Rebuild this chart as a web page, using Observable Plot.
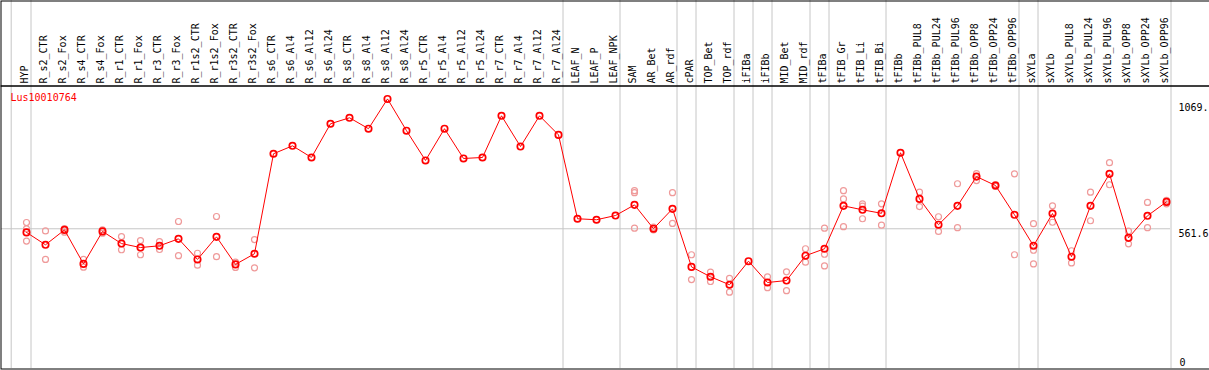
<!DOCTYPE html>
<html>
<head>
<meta charset="utf-8">
<script src="https://cdn.jsdelivr.net/npm/d3@7"></script>
<script src="https://cdn.jsdelivr.net/npm/@observablehq/plot@0.6"></script>
<style>
  html, body { margin: 0; padding: 0; background: #fff; overflow: hidden; }
  #chart svg { display: block; background: #fff; }
</style>
</head>
<body>
<div id="chart"></div>
<script>
const geneName = "Lus10010764";

const categories = [
  "HYP","R_s2_CTR","R_s2_Fox","R_s4_CTR","R_s4_Fox","R_r1_CTR","R_r1_Fox","R_r3_CTR","R_r3_Fox",
  "R_r1s2_CTR","R_r1s2_Fox","R_r3s2_CTR","R_r3s2_Fox","R_s6_CTR","R_s6_Al4","R_s6_Al12","R_s6_Al24",
  "R_s8_CTR","R_s8_Al4","R_s8_Al12","R_s8_Al24","R_r5_CTR","R_r5_Al4","R_r5_Al12","R_r5_Al24",
  "R_r7_CTR","R_r7_Al4","R_r7_Al12","R_r7_Al24","LEAF_N","LEAF_P","LEAF_NPK","SAM","AR_Bet","AR_rdf",
  "cPAR","TOP_Bet","TOP_rdf","iFIBa","iFIBb","MID_Bet","MID_rdf","tFIBa","tFIB_Gr","tFIB_Li","tFIB_Bi",
  "tFIBb","tFIBb_PUL8","tFIBb_PUL24","tFIBb_PUL96","tFIBb_OPP8","tFIBb_OPP24","tFIBb_OPP96",
  "sXYLa","sXYLb","sXYLb_PUL8","sXYLb_PUL24","sXYLb_PUL96","sXYLb_OPP8","sXYLb_OPP24","sXYLb_OPP96"
];

const means = [
  547, 497, 557, 420, 551, 502, 486, 493, 521, 438, 529, 418, 461,
  864, 896, 849, 985, 1009, 965, 1085, 957, 837, 965, 845, 849, 1017, 893, 1017, 940,
  602, 598, 615, 658, 562, 642, 408, 368, 336, 431, 345, 353, 453, 481, 654, 638, 624,
  868, 682, 578, 654, 772, 736, 618, 493, 623, 449, 654, 783, 525, 614, 670
];

const replicates = [
  [587, 561, 512], [553, 438], [562, 548], [438, 407], [557, 544], [530, 477], [514, 457],
  [510, 478], [591, 453], [463, 415], [611, 449], [427, 406], [518, 404],
  [], [], [], [], [], [], [], [], [], [], [], [], [], [], [], [],
  [], [], [],
  [715, 707, 564], [568, 557], [707, 583], [457, 357], [387, 349], [362, 306], [],
  [368, 324], [388, 312], [481, 427], [564, 459, 412], [715, 682, 570], [662, 653, 602],
  [662, 576], [], [709, 651], [610, 551], [743, 566], [784, 756], [740, 732], [783, 457],
  [582, 475, 420], [654, 588], [473, 424], [709, 594], [828, 739], [552, 501], [668, 566], [676, 662]
];

// groups: the last category of each group gets a separator after it
const groupEnds = ["HYP","R_r7_Al24","LEAF_NPK","AR_rdf","cPAR","TOP_rdf","iFIBa","iFIBb",
  "MID_rdf","tFIBa","tFIB_Bi","tFIBb_OPP96","sXYLa","sXYLb_OPP96"];
const groupStarts = ["HYP"];

const yTicks = [561.6, 1069];
const yTickLabels = ["561.6", "1069."];
const yZero = [0];
const yZeroLabel = ["0"];
const refLine = [561.6];

const meanRows = categories.map((c, i) => ({cat: c, value: means[i]}));
const repRows = categories.flatMap((c, i) => replicates[i].map(v => ({cat: c, value: v})));

const gridColor = "#c6c6c6";
const font = "DejaVu Sans Mono";

const chart = Plot.plot({
  width: 1209,
  height: 370,
  marginLeft: 1,
  marginRight: 39,
  marginTop: 0,
  marginBottom: 2,
  style: {fontFamily: font, fontSize: "10px", background: "#fff"},
  x: {type: "point", domain: categories, range: [26, 1166.6], padding: 0, axis: null},
  y: {domain: [0, 1069], range: [367.6, 102.4], axis: null},
  marks: [
    Plot.ruleX(groupEnds, {x: d => d, dx: 4.5, stroke: gridColor, strokeWidth: 1}),
    Plot.ruleX(groupStarts, {x: d => d, dx: -15.3, stroke: gridColor, strokeWidth: 1}),
    Plot.ruleY(refLine, {y: d => d, stroke: gridColor, strokeWidth: 1}),
    Plot.dot(repRows, {x: "cat", y: "value", r: 3, stroke: "#ef9a9a", strokeWidth: 1.2, fill: "none"}),
    Plot.line(meanRows, {x: "cat", y: "value", stroke: "red", strokeWidth: 1}),
    Plot.dot(meanRows, {x: "cat", y: "value", r: 3.2, stroke: "red", strokeWidth: 1.7, fill: "none"}),
    Plot.frame({stroke: "black", insetLeft: -0.5, insetRight: -60, insetTop: 0.5, insetBottom: 282.5}),
    Plot.frame({stroke: "black", insetLeft: -0.5, insetRight: -60, insetTop: 85.5, insetBottom: -0.5}),
    Plot.text(categories, {x: d => d, text: d => d, frameAnchor: "top", rotate: -90,
      textAnchor: "start", lineAnchor: "middle", dy: 83, dx: -2, fill: "black", fontSize: 10}),
    Plot.text([geneName], {frameAnchor: "top-left", text: d => d, dx: 9, dy: 93.5,
      textAnchor: "start", lineAnchor: "top", fill: "red", fontSize: 10}),
    Plot.text(yTicks, {y: d => d, text: (d, i) => yTickLabels[i], frameAnchor: "right", dx: 8,
      textAnchor: "start", lineAnchor: "top", dy: 0.8, fill: "black", fontSize: 10}),
    Plot.text(yZero, {y: d => d, text: (d, i) => yZeroLabel[i], frameAnchor: "right", dx: 9,
      textAnchor: "start", lineAnchor: "top", dy: -9.7, fill: "black", fontSize: 10})
  ]
});

document.getElementById("chart").appendChild(chart);
</script>
</body>
</html>
